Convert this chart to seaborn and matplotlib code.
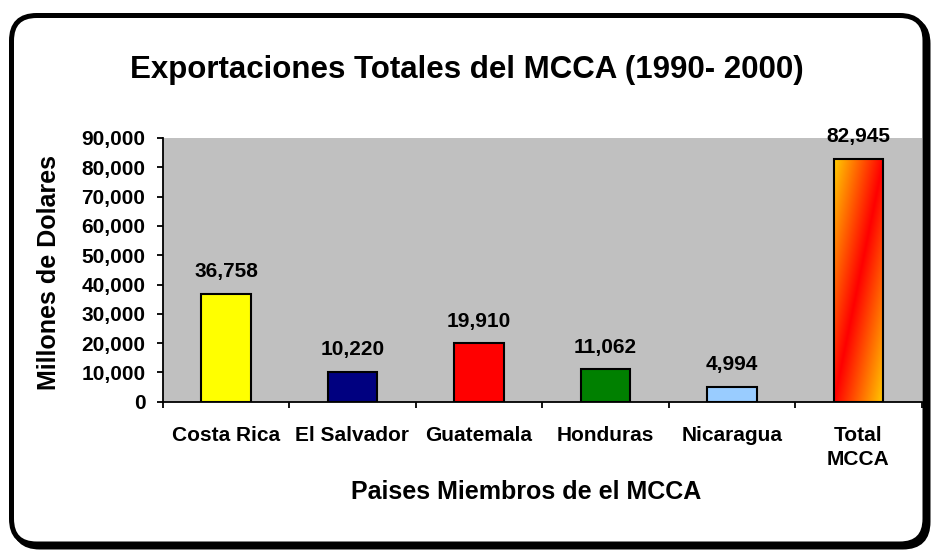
import numpy as np
import pandas as pd
import matplotlib
matplotlib.use("Agg")
import matplotlib.pyplot as plt
import seaborn as sns
from matplotlib.patches import FancyBboxPatch
from matplotlib.colors import LinearSegmentedColormap
from matplotlib.ticker import FuncFormatter, FixedLocator

# datos
paises = ["Costa Rica", "El Salvador", "Guatemala", "Honduras", "Nicaragua", "Total\nMCCA"]
exportaciones = [36758, 10220, 19910, 11062, 4994, 82945]
colores = ["#FFFF00", "#000080", "#FF0000", "#008000", "#99CCFF", "#FF6600"]
yticks = [0, 10000, 20000, 30000, 40000, 50000, 60000, 70000, 80000, 90000]

sns.set_style("white")
plt.rcParams["font.family"] = ["Liberation Sans", "DejaVu Sans"]
plt.rcParams["font.weight"] = "bold"
plt.rcParams["text.color"] = "black"
plt.rcParams["axes.labelcolor"] = "black"
plt.rcParams["xtick.color"] = "black"
plt.rcParams["ytick.color"] = "black"

df = pd.DataFrame({"pais": paises, "valor": exportaciones})

W, H = 933, 551
fig = plt.figure(figsize=(W / 100, H / 100), dpi=100)

# marco redondeado con sombra
caja = (11.5 / W, 7 / H, 913.5 / W, 528.5 / H)
sombra = FancyBboxPatch((caja[0] + 3 / W, caja[1] - 3 / H), caja[2], caja[3],
                        boxstyle="round,pad=0,rounding_size=0.027",
                        transform=fig.transFigure, facecolor="black",
                        edgecolor="black", linewidth=3.6, zorder=-2,
                        mutation_aspect=W / H)
fig.patches.append(sombra)
marco = FancyBboxPatch((caja[0], caja[1]), caja[2], caja[3],
                       boxstyle="round,pad=0,rounding_size=0.027",
                       transform=fig.transFigure, facecolor="white",
                       edgecolor="black", linewidth=3.6, zorder=-1,
                       mutation_aspect=W / H)
fig.patches.append(marco)

ax = fig.add_axes([162.7 / W, 1 - 401.7 / H, (921.7 - 162.7) / W, (401.7 - 138) / H])
ax.set_zorder(2)

sns.barplot(data=df, x="pais", y="valor", hue="pais", palette=colores,
            legend=False, width=0.39, edgecolor="black", linewidth=1.5,
            saturation=1, ax=ax)

ax.set_facecolor("#C0C0C0")
ax.set_xlim(-0.5, 5.5)
ax.set_ylim(0, 90000)
ax.yaxis.set_major_locator(FixedLocator(yticks))
ax.yaxis.set_major_formatter(FuncFormatter(lambda v, p: f"{int(v):,}"))
for s in ["top", "right"]:
    ax.spines[s].set_visible(False)
for s in ["left", "bottom"]:
    ax.spines[s].set_color("black")
    ax.spines[s].set_linewidth(1.3)

ax.tick_params(axis="y", which="major", length=4.5, width=1.3, direction="out",
               left=True, labelsize=15, pad=8)
ax.set_xticks(range(len(paises)))
ax.set_xticklabels(paises, fontsize=15, fontweight="bold", va="top",
                   linespacing=1.3)
ax.tick_params(axis="x", which="major", length=0, pad=17.5)
ax.set_xticks(np.arange(-0.5, 6.0, 1.0), minor=True)
ax.tick_params(axis="x", which="minor", length=4.5, width=1.3, direction="out", bottom=True)
for lbl in ax.get_yticklabels():
    lbl.set_fontweight("bold")
ax.set_xlabel("")
ax.set_ylabel("")

fig.text(526 / W, 1 - 499 / H, "Paises Miembros de el MCCA", ha="center",
         va="baseline", fontsize=18, fontweight="bold")
fig.text(49 / W, 1 - 272 / H, "Millones de Dolares", ha="center", va="center",
         rotation=90, fontsize=18, fontweight="bold")

# etiquetas de datos
for i, v in enumerate(exportaciones):
    ax.annotate(f"{v:,}", (i, v), xytext=(0, 12), textcoords="offset points",
                ha="center", va="baseline", fontsize=15, fontweight="bold",
                annotation_clip=False)

# barra con degradado (Total MCCA)
bar = ax.patches[-1]
bar.set_facecolor("none")
x0, w = bar.get_x(), bar.get_width()
h = bar.get_height()
n = 200
s, r = np.meshgrid(np.linspace(0, 1, n), np.linspace(1, 0, n))
d = np.abs(s - r)
cmap = LinearSegmentedColormap.from_list("grad", ["#FF0000", "#FF6600", "#FFCC00"])
im = ax.imshow(d, cmap=cmap, extent=[x0, x0 + w, 0, h], aspect="auto",
               zorder=bar.get_zorder() - 0.1, interpolation="bilinear")
im.set_clip_path(bar)
ax.set_xlim(-0.5, 5.5)
ax.set_ylim(0, 90000)

fig.text(466.5 / W, 1 - 78 / H, "Exportaciones Totales del MCCA (1990- 2000)",
         ha="center", va="baseline", fontsize=22.5, fontweight="bold")

fig.savefig("out.png", dpi=100, facecolor="white")
